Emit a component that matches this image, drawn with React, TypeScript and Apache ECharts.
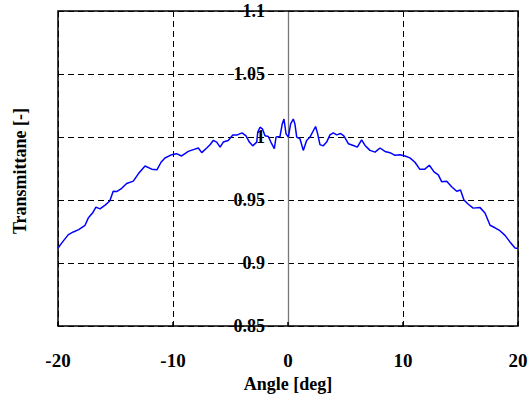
import React, { useEffect, useRef } from "react";
import * as echarts from "echarts";

const angles = [
  -20.0, -19.6, -19.1, -18.67, -18.2, -17.65, -17.37, -17.0, -16.7, -16.35, -15.9, -15.5, -15.2, -14.9,
  -14.46, -14.03, -13.45, -13.0, -12.43, -11.85, -11.4, -11.04, -10.7, -10.1, -9.7, -9.25, -8.67, -8.23,
  -7.8, -7.5, -7.07, -6.78, -6.5, -6.2, -5.9, -5.63, -5.2, -4.8, -4.4, -4.0, -3.65, -3.36, -3.07, -2.72,
  -2.63, -2.43, -2.23, -2.0, -1.71, -1.42, -1.19, -1.04, -0.7, -0.5, -0.35, -0.17, 0.03, 0.23, 0.46, 0.6,
  0.76, 1.04, 1.33, 1.62, 1.91, 2.2, 2.4, 2.58, 2.78, 3.07, 3.36, 3.65, 3.94, 4.23, 4.58, 4.87, 5.25,
  5.68, 6.03, 6.4, 6.7, 7.13, 7.57, 8.0, 8.43, 8.87, 9.3, 9.74, 10.17, 10.6, 11.04, 11.45, 11.9, 12.29,
  12.7, 13.07, 13.36, 13.8, 14.23, 14.67, 15.0, 15.3, 15.68, 16.1, 16.7, 17.13, 17.57, 18.0, 18.43,
  18.87, 19.3, 19.74, 20.0,
];

const transmittance = [
  0.912, 0.9168, 0.9226, 0.9247, 0.9265, 0.93, 0.9357, 0.9397, 0.9444, 0.943, 0.946, 0.9493, 0.957, 0.9567,
  0.9593, 0.9632, 0.965, 0.971, 0.977, 0.9745, 0.974, 0.98, 0.9834, 0.986, 0.9868, 0.985, 0.9886, 0.99,
  0.9913, 0.9876, 0.9913, 0.9939, 0.9973, 0.996, 0.992, 0.996, 0.9973, 1.0017, 1.0017, 1.0033, 1.001, 0.996,
  0.993, 0.996, 1.0039, 1.0078, 1.0065, 1.001, 1.0004, 0.9947, 0.9907, 1.0, 1.0004, 1.0104, 1.0143, 1.0025,
  1.0, 1.0104, 1.0143, 1.0104, 1.0, 0.9986, 0.9894, 0.9973, 1.0, 1.005, 1.0083, 1.0025, 0.994, 0.993,
  0.996, 1.0017, 1.0033, 1.0017, 1.0028, 1.0007, 0.9947, 0.9933, 0.992, 0.9978, 0.9933, 0.9894, 0.988,
  0.9913, 0.9886, 0.9876, 0.9855, 0.986, 0.985, 0.9835, 0.98, 0.9745, 0.9745, 0.9776, 0.9724, 0.97,
  0.9646, 0.965, 0.9606, 0.957, 0.958, 0.95, 0.9467, 0.9436, 0.944, 0.9397, 0.93, 0.928, 0.9257, 0.922,
  0.9168, 0.912, 0.9116,
];

const xName = "Angle [deg]";
const yName = "Transmittane [-]";

const FONT = "'Liberation Serif', 'Times New Roman', serif";

export default function App() {
  const ref = useRef<HTMLDivElement>(null);

  useEffect(() => {
    if (!ref.current) return;
    const chart = echarts.init(ref.current, null, { renderer: "svg" });
    chart.setOption({
      animation: false,
      backgroundColor: "#fff",
      grid: {
        left: 58,
        right: 14,
        top: 11,
        bottom: 69,
        show: true,
        borderColor: "#000",
        borderWidth: 1.5,
        backgroundColor: "transparent",
        z: 3,
      },
      xAxis: {
        type: "value",
        min: -20,
        max: 20,
        interval: 10,
        name: xName,
        nameLocation: "middle",
        nameGap: 44,
        nameTextStyle: { fontFamily: FONT, fontWeight: "bold", fontSize: 18, color: "#000" },
        axisLine: { show: false, onZero: false },
        axisTick: { show: true, inside: true, length: 4, lineStyle: { color: "#000", width: 1.5 } },
        axisLabel: { fontFamily: FONT, fontWeight: "bold", fontSize: 19, color: "#000", margin: 25 },
        splitLine: {
          show: true,
          lineStyle: {
            color: ["#000", "#000", "rgba(0,0,0,0)", "#000", "#000"],
            type: [6, 4],
            width: 1,
          },
        },
      },
      yAxis: {
        type: "value",
        min: 0.85,
        max: 1.1,
        interval: 0.05,
        offset: -230,
        axisLine: { show: true, onZero: false, lineStyle: { color: "#777", width: 1.3 } },
        axisTick: { show: false },
        axisLabel: {
          fontFamily: FONT,
          fontWeight: "bold",
          fontSize: 18,
          color: "#000",
          margin: 23,
          padding: [5, 0, 0, 0],
        },
        splitLine: { show: true, lineStyle: { color: "#000", type: [6, 4], width: 1 } },
      },
      graphic: [
        {
          type: "text",
          x: 20,
          y: 171,
          rotation: Math.PI / 2,
          style: {
            text: yName,
            fontFamily: FONT,
            fontWeight: "bold",
            fontSize: 18,
            fill: "#000",
            textAlign: "center",
            textVerticalAlign: "middle",
          },
        },
      ],
      series: [
        {
          type: "line",
          data: angles.map((a, i) => [a, transmittance[i]]),
          showSymbol: false,
          symbol: "none",
          lineStyle: { color: "#0000ff", width: 1.5 },
          z: 4,
        },
      ],
    });
    return () => chart.dispose();
  }, []);

  return <div ref={ref} style={{ width: 532, height: 398, position: "absolute", left: 0, top: 0 }} />;
}
